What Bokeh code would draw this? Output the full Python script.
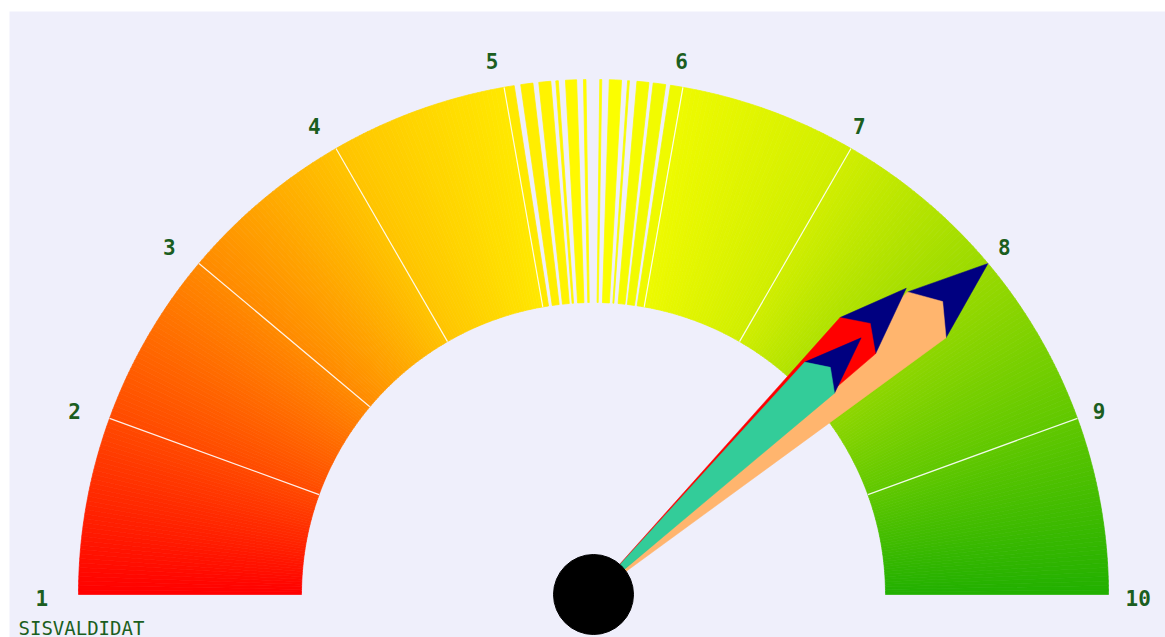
import numpy as np
from bokeh.plotting import figure
from bokeh.models import Range1d
from bokeh.embed import file_html
from bokeh.resources import INLINE
from bokeh.core.properties import value

# ---------------- data ----------------
scale_min, scale_max = 1, 10
tick_values = [1, 2, 3, 4, 5, 6, 7, 8, 9, 10]
tick_labels = ["1", "2", "3", "4", "5", "6", "7", "8", "9", "10"]

needle_values = [8.0, 7.78, 7.81]
needle_lengths = [1.0, 0.85, 0.72]          # fraction of outer radius
needle_colors = ["#FFB56E", "#FF0000", "#33CC99"]
arrow_color = "#000080"

grad_stop_values = [1, 2, 3, 4, 5, 5.5, 6, 7, 8, 9, 10]
grad_stop_colors = ["#FF0000", "#FF4A00", "#FF8A00", "#FFC400", "#FFE800", "#FFFF00",
                    "#EEFA00", "#D0EE00", "#9ADA00", "#60C800", "#22B000"]

# striped band between 5 and 6 (value ranges of the filled stripes)
stripe_starts = [5.0, 5.094, 5.195, 5.29, 5.344, 5.444, 5.535, 5.588, 5.69, 5.742, 5.833, 5.93]
stripe_ends = [5.057, 5.162, 5.262, 5.304, 5.406, 5.458, 5.546, 5.656, 5.70, 5.809, 5.903, 5.997]

caption = "SISVALDIDAT"

# ---------------- geometry ----------------
R_OUT, R_IN = 515, 292
LABEL_R = 545
HUB_R = 40
BG = "#EFEFFB"
TXT = "#1B5E20"


def ang(v):
    return np.pi * (1 - (np.asarray(v, dtype=float) - scale_min) / (scale_max - scale_min))


def hex2rgb(h):
    return [int(h[i:i + 2], 16) for i in (1, 3, 5)]


stop_rgb = np.array([hex2rgb(c) for c in grad_stop_colors], dtype=float)


def grad_color(v):
    r, g, b = (np.interp(v, grad_stop_values, stop_rgb[:, k]) for k in range(3))
    return "#%02x%02x%02x" % (int(round(r)), int(round(g)), int(round(b)))


W, H = 1165, 637
BL, BT = 9, 11
FW, FH = W - BL, H - BT
CX, CY = 593 - BL, 594 - BT   # gauge centre inside the frame (px from left / top)

p = figure(width=W, height=H, output_backend="svg", toolbar_location=None,
           x_axis_location=None, y_axis_location=None,
           x_range=Range1d(-CX, FW - CX), y_range=Range1d(CY - FH, CY),
           min_border_left=BL, min_border_top=BT, min_border_right=0, min_border_bottom=0,
           background_fill_color=BG, border_fill_color="white")
p.grid.visible = False
p.outline_line_color = None

# gradient band (1-5 and 6-10) as thin slices
step = 0.025
s_start, s_end, s_col = [], [], []
for a, b in [(1, 5), (6, 10)]:
    for v in np.arange(a, b - 1e-9, step):
        s_start.append(ang(v + step))
        s_end.append(ang(v))
        s_col.append(grad_color(v + step / 2))
p.annular_wedge(x=0, y=0, inner_radius=R_IN, outer_radius=R_OUT,
                start_angle=s_start, end_angle=s_end,
                fill_color=s_col, line_color=s_col, line_width=0.7)

# striped 5-6 band
st_col = [grad_color((a + b) / 2) for a, b in zip(stripe_starts, stripe_ends)]
p.annular_wedge(x=0, y=0, inner_radius=R_IN, outer_radius=R_OUT,
                start_angle=ang(stripe_ends), end_angle=ang(stripe_starts),
                fill_color=st_col, line_color=st_col, line_width=0.8)

# major tick lines
inner_ticks = tick_values[1:-1]
ta = ang(inner_ticks)
p.segment(x0=R_IN * np.cos(ta), y0=R_IN * np.sin(ta),
          x1=R_OUT * np.cos(ta), y1=R_OUT * np.sin(ta),
          line_color="white", line_width=1.2, line_alpha=0.9)

# tick labels (left-anchored, like the original)
la = ang(tick_values)
p.text(x=LABEL_R * np.cos(la) - 13, y=LABEL_R * np.sin(la) - 3, text=tick_labels,
       text_align="left", text_baseline="middle",
       text_font=value("DejaVu Sans Mono"), text_font_style="bold",
       text_font_size="21px", text_color=TXT)

# needles: arrowhead then shaft, in drawing order
order = [0, 1, 2]
for i in order:
    L = needle_lengths[i] * R_OUT
    th = float(ang(needle_values[i]))
    c, s = np.cos(th), np.sin(th)
    ub, wb, ut, w0 = 0.845 * L, 0.058 * L, 0.885 * L, 0.6

    def tr(pts):
        xs = [u * c - w * s for u, w in pts]
        ys = [u * s + w * c for u, w in pts]
        return xs, ys

    hx, hy = tr([(L, 0), (ub, wb), (ub, -wb)])
    p.patch(hx, hy, fill_color=arrow_color, line_color=arrow_color, line_width=0.5)
    sx, sy = tr([(0, w0), (ub, wb), (ut, 0), (ub, -wb), (0, -w0)])
    p.patch(sx, sy, fill_color=needle_colors[i], line_color=needle_colors[i], line_width=0.5)

# hub
p.circle(x=[0], y=[0], radius=HUB_R, fill_color="black", line_color="black")

# caption
p.text(x=[-575], y=[-33], text=[caption], text_align="left", text_baseline="middle",
       text_font=value("DejaVu Sans Mono"), text_font_size="19px", text_color=TXT)

open("out.html", "w").write(file_html(p, INLINE))
